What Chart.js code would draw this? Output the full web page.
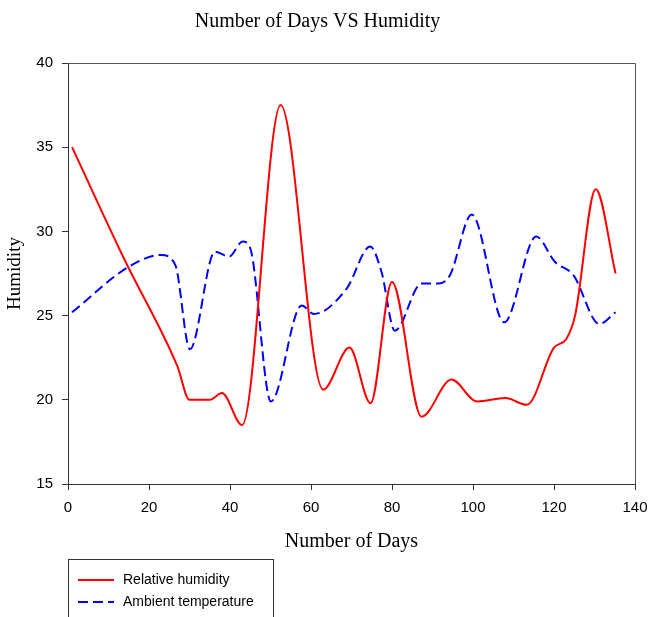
<!DOCTYPE html>
<html>
<head>
<meta charset="utf-8">
<title>Number of Days VS Humidity</title>
<script src="https://cdn.jsdelivr.net/npm/chart.js@4/dist/chart.umd.min.js"></script>
<style>
    html, body { margin: 0; padding: 0; background: #fff; }
    canvas { display: block; }
</style>
</head>
<body>
<canvas id="myChart" width="650" height="617"></canvas>
<script>
// Relative humidity readings (day, value)
const humidityDays = [1, 14, 27, 30, 35, 38, 43, 52.5, 63, 69.5, 74.7, 80, 87.3, 94.7, 101, 108, 113.3, 120, 123, 125.2, 130.3, 135.2];
const humidityValues = [35, 28.3, 22, 20, 20, 20.4, 18.5, 37.5, 20.6, 23.1, 19.8, 27, 19, 21.2, 19.9, 20.1, 19.7, 23.1, 23.6, 25, 32.5, 27.5];

// Ambient temperature readings (day, value)
const tempDays = [1, 15, 23, 26.5, 30.1, 36.3, 39.8, 43.1, 45, 50.1, 57.7, 60.7, 68.8, 74.6, 77.4, 80.7, 87.3, 91.5, 94.3, 99.7, 107.7, 115.6, 120.2, 124.8, 131.2, 135.2];
const tempValues = [25.2, 27.9, 28.6, 28.0, 23.0, 28.8, 28.5, 29.4, 29.0, 19.9, 25.6, 25.1, 26.6, 29.1, 27.6, 24.1, 26.9, 26.9, 27.4, 31.0, 24.6, 29.7, 28.2, 27.4, 24.5, 25.2];

const seriesLabels = ['Relative humidity', 'Ambient temperature'];
const xTicks = [0, 20, 40, 60, 80, 100, 120, 140];
const yTicks = [15, 20, 25, 30, 35, 40];

const sansFont = "'Liberation Sans', Arial, sans-serif";
const serifFont = "'Liberation Serif', 'Times New Roman', serif";

function toPoints(xs, ys) {
    return xs.map((x, i) => ({ x: x, y: ys[i] }));
}

// box round the plot plus the legend panel under the axis title
const framePlugin = {
    id: 'frame',
    afterDraw(chart) {
        const ctx = chart.ctx;
        const a = chart.chartArea;
        ctx.save();
        ctx.strokeStyle = '#555';
        ctx.lineWidth = 1;
        ctx.beginPath();
        ctx.moveTo(Math.round(a.left) + 0.5, Math.round(a.top) + 0.5);
        ctx.lineTo(Math.round(a.right) + 0.5, Math.round(a.top) + 0.5);
        ctx.lineTo(Math.round(a.right) + 0.5, Math.round(a.bottom) + 0.5);
        ctx.stroke();

        // legend
        ctx.strokeStyle = '#333';
        ctx.strokeRect(68.5, 559.5, 205, 80);
        ctx.font = '14px ' + sansFont;
        ctx.textBaseline = 'middle';
        ctx.fillStyle = '#000';
        chart.data.datasets.forEach((ds, i) => {
            const y = 580 + i * 22;
            ctx.strokeStyle = ds.borderColor;
            ctx.lineWidth = 2;
            ctx.setLineDash(ds.borderDash || []);
            ctx.beginPath();
            ctx.moveTo(78, y);
            ctx.lineTo(114, y);
            ctx.stroke();
            ctx.setLineDash([]);
            ctx.fillText(ds.label, 123, y);
        });
        ctx.restore();
    }
};

const ctx = document.getElementById('myChart').getContext('2d');

const myChart = new Chart(ctx, {
    type: 'line',
    data: {
        datasets: [
            {
                label: seriesLabels[0],
                data: toPoints(humidityDays, humidityValues),
                borderColor: '#ff0000',
                borderWidth: 2,
                pointRadius: 0,
                cubicInterpolationMode: 'monotone',
                fill: false
            },
            {
                label: seriesLabels[1],
                data: toPoints(tempDays, tempValues),
                borderColor: '#0000ff',
                borderWidth: 2,
                borderDash: [10, 5],
                pointRadius: 0,
                cubicInterpolationMode: 'monotone',
                fill: false
            }
        ]
    },
    options: {
        responsive: false,
        animation: false,
        layout: {
            padding: { left: 0, right: 15, top: 0, bottom: 53 }
        },
        plugins: {
            legend: { display: false },
            tooltip: { enabled: false },
            title: {
                display: true,
                text: 'Number of Days VS Humidity',
                color: '#000',
                font: { family: serifFont, size: 20, weight: 'normal' },
                padding: { top: 9.5, bottom: 29.5 }
            }
        },
        scales: {
            x: {
                type: 'linear',
                min: 0,
                max: 140,
                afterFit: function(scale) {
                    scale.height = 80;
                    scale.paddingLeft = 0;
                    scale.paddingRight = 0;
                },
                afterBuildTicks: function(scale) {
                    scale.ticks = xTicks.map(v => ({ value: v }));
                },
                ticks: {
                    color: '#000',
                    padding: 9,
                    maxRotation: 0,
                    font: { family: sansFont, size: 15 }
                },
                grid: {
                    drawOnChartArea: false,
                    tickLength: 6,
                    color: '#333'
                },
                border: { color: '#333', width: 1 },
                title: {
                    display: true,
                    text: 'Number of Days',
                    color: '#000',
                    font: { family: serifFont, size: 20, weight: 'normal' },
                    padding: { top: 0, bottom: 10 }
                }
            },
            y: {
                min: 15,
                max: 40,
                afterFit: function(scale) {
                    scale.width = 68;
                    scale.paddingTop = 0;
                    scale.paddingBottom = 0;
                },
                afterBuildTicks: function(scale) {
                    scale.ticks = yTicks.map(v => ({ value: v }));
                },
                ticks: {
                    color: '#000',
                    padding: 9,
                    font: { family: sansFont, size: 15 }
                },
                grid: {
                    drawOnChartArea: false,
                    tickLength: 6,
                    color: '#333'
                },
                border: { color: '#333', width: 1 },
                title: {
                    display: true,
                    text: 'Humidity',
                    color: '#000',
                    font: { family: serifFont, size: 19, weight: 'normal' },
                    padding: { top: 4, bottom: 0 }
                }
            }
        }
    },
    plugins: [framePlugin]
});
</script>
</body>
</html>
